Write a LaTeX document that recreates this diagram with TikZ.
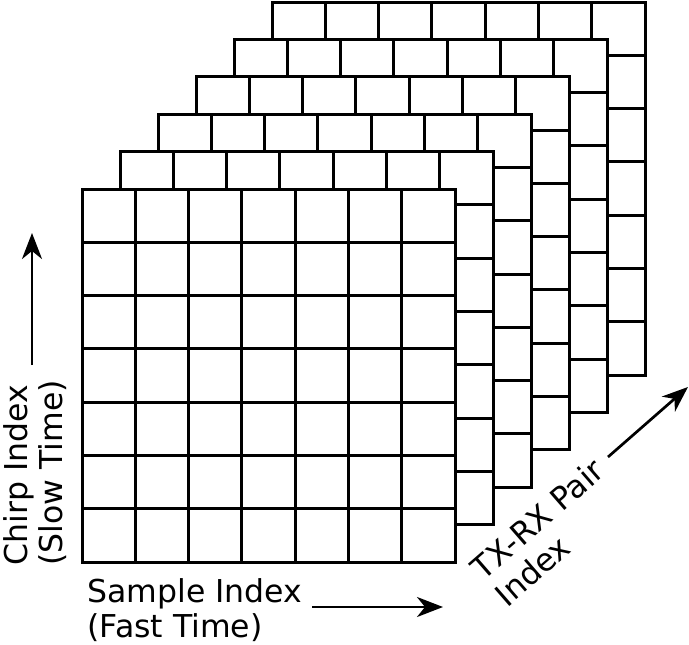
\documentclass[tikz,border=0pt]{standalone}
\usepackage{fontspec}
\setmainfont{DejaVu Sans}
\usetikzlibrary{arrows.meta}

\begin{document}
\begin{tikzpicture}[x=1pt, y=-1pt, line width=3pt,
	axisarrow/.style={-{Stealth[length=26pt,width=20pt,inset=8pt]}, line width=2.7pt},
	axislabel/.style={font=\fontsize{31.5}{35.5}\selectfont, align=left, inner sep=0pt}]
	\useasboundingbox (0,0) rectangle (689,645);
	\foreach \i in {5,4,...,0} {
		\begin{scope}[shift={(82+38*\i,189-37.4*\i)}]
			\filldraw[fill=white] (0,0) rectangle (373,373);
			\foreach \k in {1,...,6}
				\draw (\k*53.29,0) -- (\k*53.29,373) (0,\k*53.29) -- (373,\k*53.29);
		\end{scope}
	}

	\node [axislabel, anchor=north west] (sample) at (86,577) {Sample Index\\(Fast Time)};
	\node [axislabel, rotate=90, anchor=north west] (chirp) at (2,567) {Chirp Index\\(Slow Time)};
	\node [axislabel, rotate=41, anchor=north west] (pair) at (466,563) {TX-RX Pair\\Index};

	\coordinate (sample-from) at (312,607);
	\coordinate (sample-to) at (443,607);
	\coordinate (chirp-from) at (32,365);
	\coordinate (chirp-to) at (32,233);
	\coordinate (pair-from) at (608,457);
	\coordinate (pair-to) at (688,387);

	\draw [axisarrow] (sample-from) -- (sample-to);
	\draw [axisarrow] (chirp-from) -- (chirp-to);
	\draw [axisarrow] (pair-from) -- (pair-to);
\end{tikzpicture}
\end{document}
